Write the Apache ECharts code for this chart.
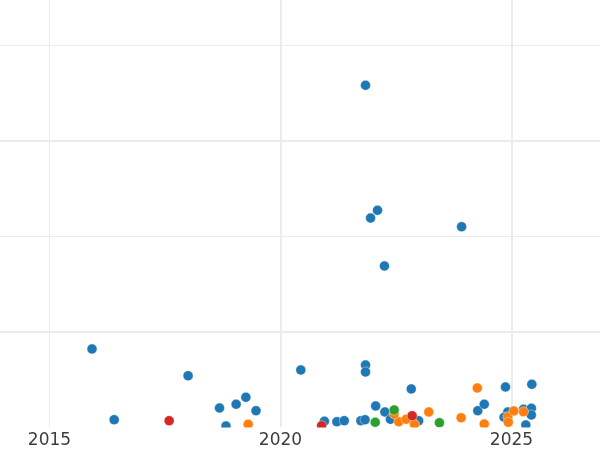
<!DOCTYPE html>
<html>
<head>
<meta charset="utf-8">
<script src="https://cdn.jsdelivr.net/npm/echarts@6/dist/echarts.min.js"></script>
<style>html,body{margin:0;padding:0;background:#fff}#c{width:600px;height:450px}</style>
</head>
<body>
<div id="c"></div>
<script>
// Data: [year, value]
const blueYears  = [2015.92,2016.40,2018.00,2018.68,2019.04,2019.25,2019.47,2018.82,2020.44,2021.84,2022.10,2021.95,2023.92,2022.25,2021.84,2021.84,2022.83,2024.87,2025.44,2022.06,2022.26,2022.38,2022.99,2024.27,2024.41,2021.74,2021.83,2021.22,2021.38,2020.95,2024.92,2024.84,2025.26,2025.43,2025.43,2025.31];
const blueValues = [81.7,7.6,53.7,19.9,23.8,31.1,17.1,1.0,59.7,357.8,226.9,218.8,209.7,168.6,64.9,57.6,39.8,41.9,44.7,22.0,15.7,8.1,6.6,17.1,23.8,6.6,7.6,5.5,6.6,6.0,15.7,10.2,18.5,19.6,12.6,2.1];
const orangeYears  = [2019.30,2024.26,2022.56,2022.72,2022.90,2023.21,2023.91,2024.41,2024.92,2025.05,2024.93,2025.26,2022.46];
const orangeValues = [2.8,40.8,5.5,8.1,2.8,15.7,9.7,3.1,10.8,16.8,4.9,16.0,13.6];
const greenYears  = [2022.46,2023.44,2022.05];
const greenValues = [17.8,4.5,4.9];
const redYears  = [2017.59,2022.85,2020.89];
const redValues = [6.6,11.8,1.4];
const majorXLines = [2020, 2025];
const majorYLines = [100, 300];

const zip = (xs, ys) => xs.map((x, i) => [x, ys[i]]);
const chart = echarts.init(document.getElementById('c'), null, {renderer: 'canvas'});
const grid = '#ebebeb';
const pt = (name, color, xs, ys) => ({
  name, type: 'scatter', data: zip(xs, ys), symbolSize: 10, z: 3, xAxisIndex: 0,
  itemStyle: {color, opacity: 1, borderColor: '#fff', borderWidth: 0.4},
  emphasis: {disabled: true}, animation: false
});
const axisBase = {
  type: 'value', min: 2010, max: 2030, interval: 5, position: 'bottom',
  axisLine: {show: false}, axisTick: {show: false}
};
chart.setOption({
  animation: false,
  backgroundColor: '#fff',
  grid: {left: -181.5, right: -142.5, top: -50.5, bottom: 23, containLabel: false, outerBoundsMode: 'none'},
  xAxis: [
    Object.assign({}, axisBase, {
      axisLabel: {show: false},
      splitLine: {show: true, lineStyle: {color: grid, width: 1}}
    }),
    Object.assign({}, axisBase, {
      z: 10,
      axisLabel: {color: '#3d3d3d', fontSize: 17, fontFamily: 'DejaVu Sans', margin: 5,
        formatter: v => String(v)},
      splitLine: {show: false}
    })
  ],
  yAxis: {
    type: 'value', min: 0, max: 500, interval: 100,
    axisLine: {show: false}, axisTick: {show: false}, axisLabel: {show: false},
    splitLine: {show: true, showMinLine: false, lineStyle: {color: grid, width: 1}}
  },
  graphic: [{
    type: 'rect', z: 5, silent: true,
    shape: {x: 0, y: 427.5, width: 600, height: 30},
    style: {fill: '#fff'}
  }],
  series: [
    {type: 'scatter', data: [], z: 1, silent: true,
     markLine: {silent: true, z: 1, symbol: 'none', label: {show: false}, animation: false,
       lineStyle: {color: grid, width: 2, type: 'solid'},
       data: majorXLines.map(v => ({xAxis: v})).concat(majorYLines.map(v => ({yAxis: v})))}},
    pt('blue', '#1f77b4', blueYears, blueValues),
    pt('orange', '#ff7f0e', orangeYears, orangeValues),
    pt('green', '#2ca02c', greenYears, greenValues),
    pt('red', '#d62728', redYears, redValues)
  ]
});
</script>
</body>
</html>
